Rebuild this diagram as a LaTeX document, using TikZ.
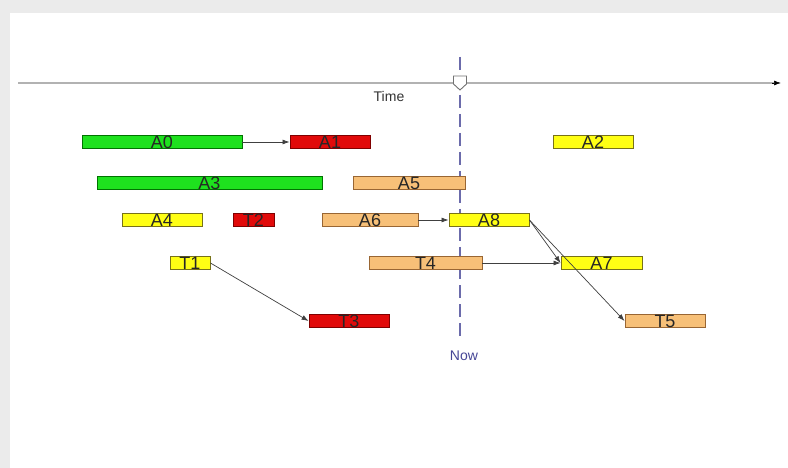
\documentclass[tikz,border=0pt]{standalone}
\usepackage{fontspec}
\setmainfont{Liberation Sans}
\usetikzlibrary{arrows,arrows.meta,shapes,positioning,calc}

\definecolor{bargreen}{RGB}{30,225,30}
\definecolor{barred}{RGB}{225,10,10}
\definecolor{baryellow}{RGB}{255,255,20}
\definecolor{barorange}{RGB}{247,192,120}
\definecolor{nowblue}{RGB}{70,70,150}

\tikzset{
  bar/.style={draw, rectangle, minimum height=10pt, inner sep=0pt, line width=0.9pt,
    font=\fontsize{18}{18}\selectfont, text=black!85},
  ok/.style={bar, fill=bargreen, draw=green!45!black},
  late/.style={bar, fill=barred, draw=red!50!black},
  soon/.style={bar, fill=baryellow, draw=olive!80!black},
  busy/.style={bar, fill=barorange, draw=brown!80!black},
  dep/.style={-{Latex[length=7pt,width=5pt]}, draw=black!75, line width=0.7pt}
}

\begin{document}
\begin{tikzpicture}[x=1pt, y=-1pt]
\useasboundingbox (0,0) rectangle (788,468);
\fill[black!8] (0,0) rectangle (788,468);
\fill[white] (10,13) rectangle (788,468);

% time axis
\coordinate (axisstart) at (18,83);
\coordinate (axisend) at (781,83);
\draw[line width=2.5pt, black!30] (axisstart) -- (774,83);
\draw[-{Latex[length=7pt,width=5pt]}, line width=0.7pt] (772,83) -- (axisend);
\node[font=\fontsize{14}{14}\selectfont, text=black!80] (time) at (389,96) {Time};

% now line
\coordinate (nowtop) at (460,57);
\coordinate (nowbot) at (460,337);
\draw[nowblue!80, line width=1.1pt, dash pattern=on 13pt off 6pt] (nowtop) -- (nowbot);
\draw[black!55, fill=white, line width=0.9pt] (453.5,76) -- (466.5,76) -- (466.5,84) -- (460,90) -- (453.5,84) -- cycle;
\node[font=\fontsize{14}{14}\selectfont, text=nowblue] (now) at (464,356) {Now};

% tasks
\node[ok, minimum width=160pt] (a0) at (162,142) {A0};
\node[late, minimum width=80pt] (a1) at (330,142) {A1};
\node[soon, minimum width=80pt] (a2) at (593,142) {A2};

\node[ok, minimum width=225pt] (a3) at (209.5,183) {A3};
\node[busy, minimum width=112pt] (a5) at (409,183) {A5};

\node[soon, minimum width=80pt] (a4) at (162,220) {A4};
\node[late, minimum width=41pt] (t2) at (253.5,220) {T2};
\node[busy, minimum width=96pt] (a6) at (370,220) {A6};
\node[soon, minimum width=80pt] (a8) at (489,220) {A8};

\node[soon, minimum width=40pt] (t1) at (190,263) {T1};
\node[busy, minimum width=113pt] (t4) at (425.5,263) {T4};
\node[soon, minimum width=81pt] (a7) at (601.5,263) {A7};

\node[late, minimum width=80pt] (t3) at (349,321) {T3};
\node[busy, minimum width=80pt] (t5) at (665,321) {T5};

% dependencies
\draw[dep] (a0.east) -- (a1.west);
\draw[dep] (a6.east) -- (a8.west);
\draw[dep] (t4.east) -- (a7.west);
\draw[dep] (t1.east) -- (t3.west);
\draw[dep] (a8.east) -- (a7.west);
\draw[dep] (a8.east) -- (t5.west);
\end{tikzpicture}
\end{document}
